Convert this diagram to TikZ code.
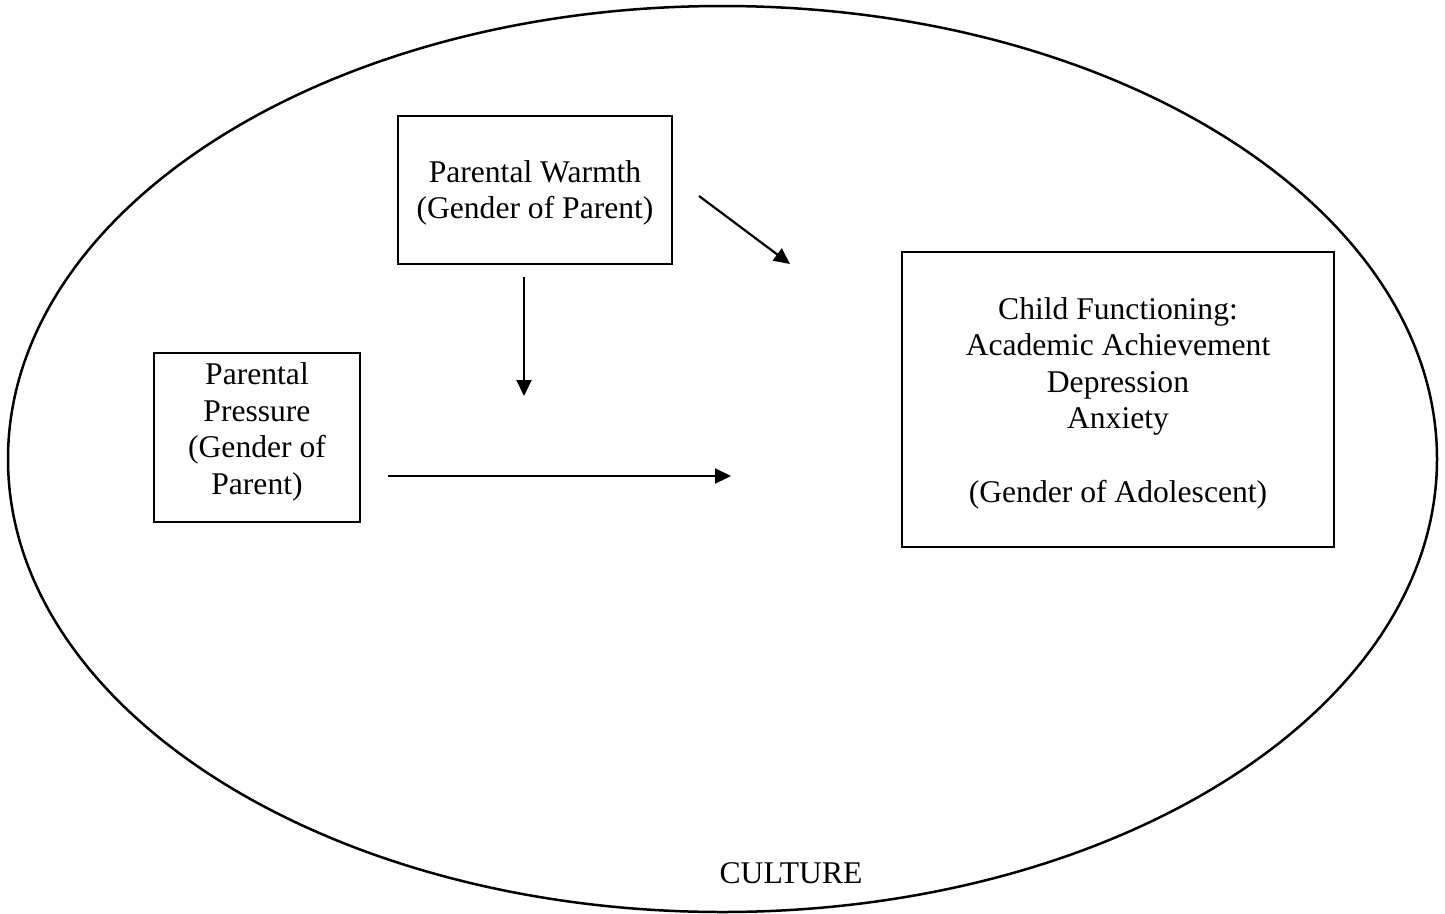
\documentclass[tikz,border=0pt]{standalone}
\usepackage{fontspec}
\setmainfont{Liberation Serif}
\usetikzlibrary{arrows.meta}
\begin{document}
\begin{tikzpicture}[x=1pt,y=-1pt,
  box/.style={draw,line width=2.2pt,inner sep=0pt},
  lbl/.style={align=center,font=\fontsize{31.6}{36.6}\selectfont},
  arr/.style={line width=2.2pt,-{Triangle[length=16pt,width=15pt]}}]
\useasboundingbox (0,0) rectangle (1445,913);
\draw[line width=2.5pt] (722.5,459) ellipse [x radius=714.5, y radius=453];
\node[box,minimum width=274pt,minimum height=148pt] (warm) at (535,190) {};
\node[lbl] (warmt) at (535,193) {Parental Warmth\\(Gender of Parent)};
\node[box,minimum width=206pt,minimum height=169pt] (press) at (257,437.5) {};
\node[lbl] (presst) at (257,432) {Parental\\Pressure\\(Gender of\\Parent)};
\node[box,minimum width=432pt,minimum height=295pt] (child) at (1118,399.5) {};
\node[lbl] (childt) at (1118,403) {Child Functioning:\\Academic Achievement\\Depression\\Anxiety\\[36.6pt](Gender of Adolescent)};
\node[lbl] (cult) at (791,873) {CULTURE};
\coordinate (a1s) at (699,196); \coordinate (a1e) at (790,264);
\coordinate (a2s) at (524,277); \coordinate (a2e) at (524,396);
\coordinate (a3s) at (388,476); \coordinate (a3e) at (731,476);
\draw[arr] (a1s) -- (a1e);
\draw[arr] (a2s) -- (a2e);
\draw[arr] (a3s) -- (a3e);
\end{tikzpicture}
\end{document}
